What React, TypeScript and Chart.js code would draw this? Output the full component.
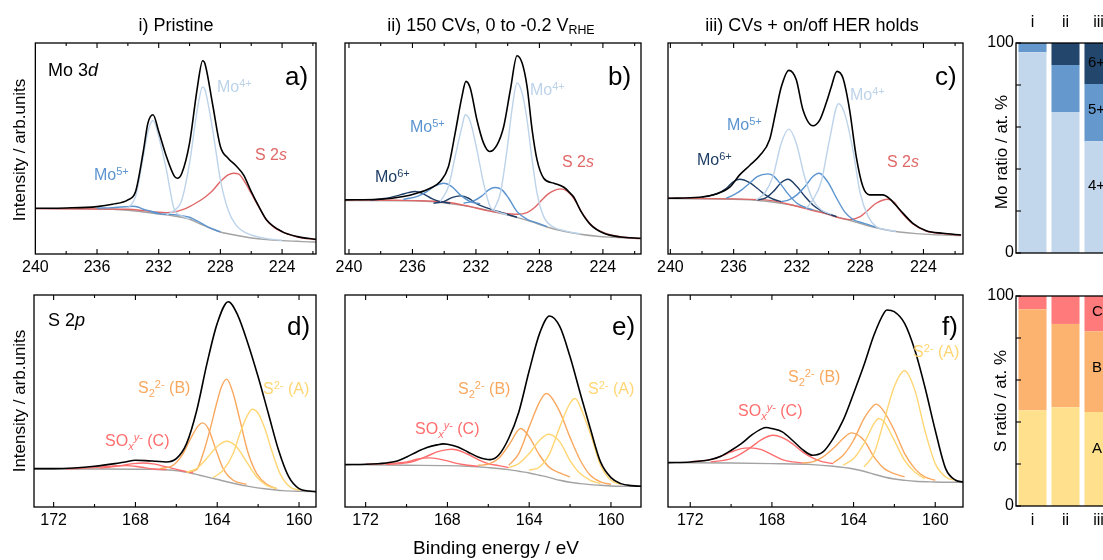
import React, { useEffect, useRef } from "react";
import { Chart, registerables } from "chart.js";
Chart.register(...registerables);

type Pt = [number, number];

// ---------- axis tick values ----------
const moTickLabels = [240, 236, 232, 228, 224];
const moMinorTicks = [238, 234, 230, 226, 222];
const sTickLabels = [172, 168, 164, 160];
const sMinorTicks = [170, 166, 162];
const barCats = ["i", "ii", "iii"];
const barTicks = [0, 20, 40, 60, 80, 100];

// ---------- bar values (at. %) ----------
const moFrac4 = [95.6, 67.1, 53.2];
const moFrac5 = [4.4, 22.4, 27.3];
const moFrac6 = [0, 10.5, 19.5];
const sFracA = [45.6, 47.0, 44.8];
const sFracB = [48.1, 39.7, 38.4];
const sFracC = [6.3, 13.3, 16.8];

// ---------- Mo 3d, pristine (binding energy eV, intensity arb.) ----------
const aTotal: Pt[] = [[240,137],[238,138],[236,142],[235,149],[234,162],[233.5,187],[233,307],[232.7,392],[232.37,417],[232,367],[231.5,292],[231,234],[230.8,227],[230.5,242],[230,332],[229.5,497],[229.15,579],[229,570],[228.5,447],[228,322],[227.5,287],[227,265],[226.5,237],[226,187],[225.5,142],[225,102],[224,67],[223,52],[222,45],[221.8,44]];
const aMo4a: Pt[] = [[234,137],[233.5,172],[233,292],[232.7,367],[232.37,400],[232,352],[231.5,252],[231,135],[230.5,114],[230,105]];
const aMo4b: Pt[] = [[231.5,117],[231,130],[230.5,162],[230,272],[229.5,432],[229.15,500],[229,492],[228.5,372],[228,222],[227.5,132],[227,87],[226.5,67],[226,57],[225,46],[224,41]];
const aMo5a: Pt[] = [[236,137],[235,139],[234,142],[233.7,143],[233.3,140],[233,134],[232.5,128],[232,122]];
const aMo5b: Pt[] = [[232.5,126],[232,121],[231.5,119],[231,118],[230.5,115],[230,110],[229.5,99],[229,86],[228.5,75],[228,66]];
const aS2s: Pt[] = [[240,136],[236,135],[234,134],[233,130],[232,125],[231.5,124],[231,126],[230.5,132],[230,142],[229.5,155],[229,170],[228.5,190],[228,217],[227.5,237],[227.14,242],[226.8,239],[226.5,222],[226,182],[225.5,140],[225,101],[224.5,79],[224,66],[223,51],[222,44],[221.8,43]];
const aBg: Pt[] = [[240,136],[238,136],[236,135],[235,134],[234,131],[233,126],[232,120],[231,114],[230.5,110],[230,104],[229.5,94],[229,84],[228.5,74],[228,66],[227,56],[226,48],[225,43],[224,40],[223,38],[222,36],[221.8,36]];

// ---------- Mo 3d, 150 CVs ----------
const bTotal: Pt[] = [[240.25,162],[238.04,164],[236.57,172],[235.73,182],[234.88,197],[234.25,217],[233.73,262],[233.31,362],[232.88,472],[232.63,517],[232.36,497],[231.94,402],[231.52,332],[231.14,307],[230.67,327],[230.25,382],[229.83,492],[229.41,594],[229.09,572],[228.78,502],[228.46,372],[228.15,282],[227.73,227],[227.09,212],[226.46,200],[226.04,181],[225.83,170],[225.41,130],[224.78,88],[223.94,62],[222.88,51],[221.62,47]];
const bMo4a: Pt[] = [[234.25,157],[233.73,202],[233.31,292],[232.88,382],[232.67,417],[232.36,397],[231.94,312],[231.52,212],[231.09,140],[230.67,127],[230.04,118]];
const bMo4b: Pt[] = [[230.88,132],[230.46,182],[230.04,312],[229.73,432],[229.41,512],[229.09,482],[228.78,402],[228.46,282],[228.15,182],[227.73,112],[227.09,80],[226.46,70],[225.41,60]];
const bMo5a: Pt[] = [[236.57,164],[235.73,172],[235.09,187],[234.57,204],[234.04,212],[233.52,202],[232.99,177],[232.36,157],[231.73,150]];
const bMo5b: Pt[] = [[232.78,152],[232.15,159],[231.62,174],[231.2,192],[230.78,199],[230.36,192],[229.94,167],[229.41,127],[228.78,104],[228.15,93],[227.52,82]];
const bMo6a: Pt[] = [[238.67,162],[237.62,167],[236.78,177],[236.25,184],[235.83,187],[235.31,180],[234.78,166],[234.25,157],[233.62,152]];
const bMo6b: Pt[] = [[234.67,152],[234.04,157],[233.52,169],[232.99,174],[232.46,167],[231.94,150],[231.31,138],[230.67,128],[230.04,119],[229.41,110]];
const bS2s: Pt[] = [[240.25,162],[235.94,160],[233.83,155],[232.36,142],[231.31,130],[230.25,122],[229.41,119],[228.78,124],[228.36,137],[227.94,157],[227.52,177],[227.09,190],[226.67,195],[226.25,188],[225.83,166],[225.2,115],[224.57,80],[223.73,60],[222.67,50],[221.62,46]];
const bBg: Pt[] = [[240.25,160],[235.94,159],[234.88,157],[233.83,152],[232.78,145],[231.73,136],[230.67,124],[229.62,112],[228.57,98],[227.52,81],[226.46,68],[225.41,59],[224.36,53],[223.31,50],[221.62,46]];

// ---------- Mo 3d, CVs + HER holds ----------
const cTotal: Pt[] = [[240.15,167],[238.15,170],[237.09,180],[236.25,200],[235.62,237],[234.99,265],[234.36,294],[233.73,342],[233.31,432],[232.99,500],[232.51,550],[232.04,522],[231.62,432],[230.99,384],[230.57,400],[230.15,452],[229.83,500],[229.47,547],[229.09,527],[228.67,432],[228.25,292],[227.83,202],[227.41,177],[226.57,177],[226.15,166],[225.52,134],[224.67,92],[223.83,70],[222.78,62],[221.62,57]];
const cMo4a: Pt[] = [[234.57,162],[234.04,182],[233.52,232],[232.99,332],[232.51,374],[232.04,332],[231.52,232],[230.99,162],[230.46,132],[229.83,119]];
const cMo4b: Pt[] = [[231.41,137],[230.99,162],[230.46,217],[229.94,342],[229.37,450],[228.99,422],[228.46,312],[228,182],[227.49,112],[226.99,82],[226.46,74],[225.73,68]];
const cMo5a: Pt[] = [[236.46,167],[236,177],[235.49,192],[234.99,212],[234.51,232],[233.83,240],[233.49,234],[232.99,207],[232.51,177],[232,152],[231.49,140],[230.99,132]];
const cMo5b: Pt[] = [[232.99,157],[232.51,162],[232,177],[231.49,202],[230.99,232],[230.61,242],[230.48,240],[230,212],[229.49,167],[228.99,127],[228.48,104],[228,95],[227.49,88],[226.99,80]];
const cMo6a: Pt[] = [[238,170],[236.99,182],[236.46,197],[236,217],[235.62,224],[234.99,214],[234.51,197],[234,177],[233.49,164],[232.99,157]];
const cMo6b: Pt[] = [[234.51,162],[234,167],[233.49,187],[232.99,214],[232.57,224],[232,202],[231.49,172],[230.99,147],[230.48,130],[230,120],[229.49,112]];
const cS2s: Pt[] = [[240.15,167],[234,162],[232,143],[230.99,130],[230,119],[229.31,108],[228.67,103],[228,112],[227.49,132],[226.99,152],[226.25,164],[225.83,154],[225.52,132],[224.67,90],[223.83,69],[222.78,61],[221.62,56]];
const cBg: Pt[] = [[240.15,166],[236.04,164],[234.99,162],[233.94,158],[232.88,151],[231.83,142],[230.78,130],[229.73,114],[228.67,101],[227.62,86],[226.57,74],[225.52,66],[224.46,61],[223.41,58],[221.62,55]];

// ---------- S 2p, pristine ----------
const dTotal: Pt[] = [[172.96,115],[172,115],[171,117],[170,122],[169,130],[168.5,135],[168,140],[167.5,139],[167,137],[166.5,135],[166,145],[165.5,190],[165,290],[164.5,430],[164,550],[163.46,615],[163,575],[162.5,490],[162,390],[161.5,280],[161,170],[160.5,90],[160,55],[159.5,48],[159.17,46]];
const dB1: Pt[] = [[165.5,105],[165.01,112],[164.69,160],[164.36,230],[164.03,310],[163.79,360],[163.54,383],[163.22,340],[162.89,260],[162.48,160],[162.07,100],[161.58,68],[161.09,55]];
const dB2: Pt[] = [[166.81,115],[166.16,125],[165.67,160],[165.26,210],[164.93,243],[164.72,252],[164.44,235],[164.11,180],[163.71,115],[163.22,80],[162.56,68]];
const dA1: Pt[] = [[164.2,88],[163.71,110],[163.22,160],[162.89,220],[162.56,270],[162.29,293],[161.99,280],[161.67,235],[161.34,170],[160.93,100],[160.44,60],[159.95,50]];
const dA2: Pt[] = [[165.5,104],[165.01,115],[164.52,145],[164.03,180],[163.54,197],[163.05,180],[162.56,135],[162.07,90],[161.58,65],[161.09,55]];
const dC1: Pt[] = [[169.75,116],[168.93,122],[168.11,130],[167.62,132],[167.13,129],[166.48,120],[165.83,110],[165.18,102]];
const dC2: Pt[] = [[171.38,114],[170.07,118],[169.09,123],[168.44,124],[167.79,120],[167.13,114],[166.48,112]];
const dBg: Pt[] = [[172.96,114],[169.75,114],[167.3,113],[166.16,110],[165.5,104],[164.85,95],[164.03,83],[163.22,71],[162.4,61],[161.58,54],[160.77,49],[159.95,47],[159.17,46]];

// ---------- S 2p, 150 CVs ----------
const eTotal: Pt[] = [[173,127],[172,128],[171,132],[170.5,137],[169.99,150],[169.5,165],[169,178],[168.51,186],[168.2,189],[168,188],[167.49,180],[167,165],[166.5,150],[165.91,142],[165.5,155],[165,206],[164.51,284],[164,408],[163.49,520],[163,572],[162.5,540],[162.01,452],[161.5,340],[161.01,235],[160.51,135],[160,88],[159.51,70],[159,64],[158.53,62]];
const eC1: Pt[] = [[171,128],[169.99,132],[169.5,140],[169,152],[168.51,165],[168,172],[167.79,173],[167.49,170],[167,158],[166.5,142],[166.01,130],[165.5,124],[165,118]];
const eC2: Pt[] = [[172,128],[171,130],[169.99,135],[169.5,143],[168.85,147],[168.51,145],[168,138],[167.49,130],[167,125],[166.5,122]];
const eB1: Pt[] = [[165,125],[164.51,160],[164,240],[163.49,315],[163.17,340],[163,335],[162.5,285],[162.01,210],[161.5,140],[161.01,95],[160.51,75],[160,68]];
const eB2: Pt[] = [[166.5,125],[166.01,128],[165.5,145],[165,185],[164.41,235],[164,210],[163.49,155],[163,118],[162.5,102],[162.01,90]];
const eA1: Pt[] = [[164,110],[163.49,120],[163,160],[162.5,240],[162.01,310],[161.75,325],[161.5,300],[161.01,220],[160.51,125],[160,80],[159.51,68]];
const eA2: Pt[] = [[165,118],[164.51,130],[164,160],[163.49,200],[163.05,218],[162.5,195],[162.01,140],[161.5,100],[161.01,80],[160.51,70]];
const eBg: Pt[] = [[173,127],[169.99,125],[168,124],[167,122],[166.01,118],[165,112],[164.51,107],[164,102],[163.49,95],[163,88],[162.5,80],[162.01,74],[161.5,70],[161.01,67],[160.51,65],[160,63],[159,62],[158.53,62]];

// ---------- S 2p, CVs + HER holds ----------
const fTotal: Pt[] = [[173.09,133],[172,135],[171,142],[170.5,152],[169.99,170],[169.5,190],[169,215],[168.51,234],[168.28,238],[168,235],[167.49,225],[167,200],[166.5,172],[166.01,155],[165.5,165],[165,205],[164.51,260],[164,340],[163.49,425],[163,515],[162.5,582],[162.37,590],[162.01,585],[161.5,550],[161,470],[160.51,360],[160,230],[159.49,115],[159,80],[158.64,75]];
const fC1: Pt[] = [[171,135],[169.99,145],[169.5,160],[169,180],[168.51,202],[167.95,215],[167.49,208],[167,190],[166.5,165],[166.01,147],[165.5,135],[165,130]];
const fC2: Pt[] = [[172,135],[171,142],[170.5,152],[169.99,165],[169.5,175],[169.09,177],[168.51,172],[168,157],[167.49,142],[167,135],[166.5,132]];
const fB1: Pt[] = [[165,132],[164.51,155],[164,200],[163.49,265],[163,305],[162.89,308],[162.5,285],[162.01,230],[161.5,160],[161,115],[160.51,90],[160,80]];
const fB2: Pt[] = [[166.5,132],[166.01,135],[165.5,150],[165,175],[164.51,205],[164.11,222],[163.49,200],[163,150],[162.5,115],[162.01,100],[161.5,90]];
const fA1: Pt[] = [[163.49,120],[163,160],[162.5,260],[162.01,360],[161.5,408],[161,350],[160.51,230],[160,130],[159.49,90],[159,80]];
const fA2: Pt[] = [[164.51,125],[164,145],[163.49,190],[163,250],[162.76,265],[162.5,255],[162.01,200],[161.5,140],[161,105],[160.51,85]];
const fBg: Pt[] = [[173.09,133],[169.99,132],[168,130],[166.01,127],[165,122],[164,114],[163.49,107],[163,98],[162.5,90],[162.01,84],[161.5,80],[161,77],[160,75],[159,74],[158.64,74]];

// ---------- styles ----------
const FONT = '"Liberation Sans", Arial, Helvetica, sans-serif';
const COL = {
  total: "#000000",
  mo4: "#bdd3ea",
  mo5: "#5b94cf",
  mo6: "#1f3e66",
  s2s: "#e06767",
  bg: "#a3a3a3",
  A: "#ffd673",
  B: "#f8a85f",
  C: "#ff6e6e",
  barMo4: "#c3d7ec",
  barMo5: "#6598cc",
  barMo6: "#23466c",
  barA: "#ffe08c",
  barB: "#fbb36f",
  barC: "#ff7a7a",
};

type PanelDef = {
  left: number; top: number; w: number; h: number;
  xMin: number; xMax: number; yMax: number;
  labels: number[]; minor: number[];
  curves: [Pt[], string][];
};

const panels: PanelDef[] = [
  { left: 34, top: 43, w: 282, h: 211, xMin: 221.8, xMax: 240, yMax: 632, labels: moTickLabels, minor: moMinorTicks,
    curves: [[aTotal, COL.total], [aMo4a, COL.mo4], [aMo4b, COL.mo4], [aMo5a, COL.mo5], [aMo5b, COL.mo5], [aS2s, COL.s2s], [aBg, COL.bg]] },
  { left: 345, top: 43, w: 296, h: 211, xMin: 221.6, xMax: 240.25, yMax: 632, labels: moTickLabels, minor: moMinorTicks,
    curves: [[bTotal, COL.total], [bMo4a, COL.mo4], [bMo4b, COL.mo4], [bMo5a, COL.mo5], [bMo5b, COL.mo5], [bMo6a, COL.mo6], [bMo6b, COL.mo6], [bS2s, COL.s2s], [bBg, COL.bg]] },
  { left: 668, top: 43, w: 295, h: 211, xMin: 221.5, xMax: 240.15, yMax: 632, labels: moTickLabels, minor: moMinorTicks,
    curves: [[cTotal, COL.total], [cMo4a, COL.mo4], [cMo4b, COL.mo4], [cMo5a, COL.mo5], [cMo5b, COL.mo5], [cMo6a, COL.mo6], [cMo6b, COL.mo6], [cS2s, COL.s2s], [cBg, COL.bg]] },
  { left: 34, top: 295, w: 282, h: 212, xMin: 159.17, xMax: 172.96, yMax: 635, labels: sTickLabels, minor: sMinorTicks,
    curves: [[dTotal, COL.total], [dA1, COL.A], [dA2, COL.A], [dB1, COL.B], [dB2, COL.B], [dC1, COL.C], [dC2, COL.C], [dBg, COL.bg]] },
  { left: 345, top: 295, w: 296, h: 212, xMin: 158.53, xMax: 173.01, yMax: 635, labels: sTickLabels, minor: sMinorTicks,
    curves: [[eTotal, COL.total], [eA1, COL.A], [eA2, COL.A], [eB1, COL.B], [eB2, COL.B], [eC1, COL.C], [eC2, COL.C], [eBg, COL.bg]] },
  { left: 668, top: 295, w: 295, h: 212, xMin: 158.64, xMax: 173.09, yMax: 635, labels: sTickLabels, minor: sMinorTicks,
    curves: [[fTotal, COL.total], [fA1, COL.A], [fA2, COL.A], [fB1, COL.B], [fB2, COL.B], [fC1, COL.C], [fC2, COL.C], [fBg, COL.bg]] },
];

function makeFrame(xMajor: number[] | null, xMinor: number[] | null, yMarks: number[] | null) {
  return {
    id: "frame",
    afterDatasetsDraw(chart: any) {
      const { ctx, chartArea: a } = chart;
      ctx.save();
      ctx.strokeStyle = "#000";
      ctx.lineWidth = 1.3;
      ctx.strokeRect(a.left, a.top, a.right - a.left, a.bottom - a.top);
      ctx.lineWidth = 1.1;
      const sx = chart.scales.x;
      const drawX = (vals: number[], len: number) => {
        for (const v of vals) {
          const px = sx.getPixelForValue(v);
          if (px <= a.left + 1 || px >= a.right - 1) continue;
          ctx.beginPath();
          ctx.moveTo(px, a.bottom);
          ctx.lineTo(px, a.bottom - len);
          ctx.moveTo(px, a.top);
          ctx.lineTo(px, a.top + len);
          ctx.stroke();
        }
      };
      if (xMajor) drawX(xMajor, 5);
      if (xMinor) drawX(xMinor, 3);
      if (yMarks) {
        const sy = chart.scales.y;
        for (const v of yMarks) {
          const py = sy.getPixelForValue(v);
          ctx.beginPath();
          ctx.moveTo(a.left, py);
          ctx.lineTo(a.left + 5, py);
          ctx.stroke();
        }
      }
      ctx.restore();
    },
  };
}

const PAD = 16;

function xpsConfig(p: PanelDef) {
  return {
    type: "line",
    data: {
      datasets: p.curves.map(([pts, color]) => ({
        data: pts.map(([x, y]) => ({ x, y })),
        borderColor: color,
        borderWidth: color === COL.total ? 1.6 : 1.4,
        pointRadius: 0,
        fill: false,
        cubicInterpolationMode: "monotone",
      })),
    },
    options: {
      animation: false,
      responsive: false,
      maintainAspectRatio: false,
      events: [],
      layout: { padding: { left: PAD, right: PAD, top: 10, bottom: 0 } },
      plugins: { legend: { display: false }, tooltip: { enabled: false }, title: { display: false } },
      scales: {
        x: {
          type: "linear",
          reverse: true,
          min: p.xMin,
          max: p.xMax,
          grid: { display: false, drawTicks: false },
          border: { display: false },
          afterBuildTicks: (s: any) => { s.ticks = p.labels.map((v) => ({ value: v })); },
          afterFit: (s: any) => { s.height = 30; },
          ticks: { autoSkip: false, maxRotation: 0, padding: 4, color: "#000", font: { family: FONT, size: 16 } },
        },
        y: { type: "linear", display: false, min: 0, max: p.yMax },
      },
    },
    plugins: [makeFrame(p.labels, p.minor, null)],
  };
}

function barConfig(kind: "mo" | "s") {
  const sets = kind === "mo"
    ? [[moFrac4, COL.barMo4], [moFrac5, COL.barMo5], [moFrac6, COL.barMo6]]
    : [[sFracA, COL.barA], [sFracB, COL.barB], [sFracC, COL.barC]];
  return {
    type: "bar",
    data: {
      labels: barCats,
      datasets: sets.map(([vals, color]) => ({
        data: vals as number[],
        backgroundColor: color as string,
        borderWidth: 0,
        barPercentage: 0.85,
        categoryPercentage: 1,
      })),
    },
    options: {
      animation: false,
      responsive: false,
      maintainAspectRatio: false,
      events: [],
      layout: { padding: kind === "mo" ? { left: 0, right: 12, top: 0, bottom: 12 } : { left: 0, right: 12, top: 12, bottom: 0 } },
      plugins: { legend: { display: false }, tooltip: { enabled: false }, title: { display: false } },
      scales: {
        x: {
          stacked: true,
          position: kind === "mo" ? "top" : "bottom",
          grid: { display: false, drawTicks: false },
          border: { display: false },
          afterFit: (s: any) => { s.height = kind === "mo" ? 43 : 30; },
          ticks: { padding: kind === "mo" ? 11 : 5, color: "#000", font: { family: FONT, size: 16 } },
        },
        y: {
          stacked: true,
          min: 0,
          max: 100,
          grid: { display: false, drawTicks: false },
          border: { display: false },
          afterBuildTicks: (s: any) => { s.ticks = barTicks.map((v) => ({ value: v })); },
          afterFit: (s: any) => { s.width = 50; },
          ticks: {
            padding: 2,
            color: "#000",
            font: { family: FONT, size: 16 },
            callback: (v: any) => (v === 0 || v === 100 ? String(v) : ""),
          },
        },
      },
    },
    plugins: [makeFrame(null, null, barTicks)],
  };
}

function ChartCanvas({ left, top, width, height, make }: any) {
  const ref = useRef<HTMLCanvasElement>(null);
  useEffect(() => {
    const chart = new Chart(ref.current as HTMLCanvasElement, make() as any);
    return () => chart.destroy();
  }, []);
  return (
    <canvas
      ref={ref}
      width={width}
      height={height}
      style={{ position: "absolute", left, top, width, height }}
    />
  );
}

function Txt({ x, base, size, color = "#000", center = false, children }: any) {
  return (
    <div
      style={{
        position: "absolute",
        left: x,
        top: base - 0.8465 * size,
        fontSize: size,
        lineHeight: `${size}px`,
        height: size,
        color,
        whiteSpace: "nowrap",
        transform: center ? "translateX(-50%)" : undefined,
      }}
    >
      {children}
    </div>
  );
}

function VTxt({ cx, cy, size, children }: any) {
  return (
    <div
      style={{
        position: "absolute",
        left: cx,
        top: cy,
        fontSize: size,
        lineHeight: `${size}px`,
        whiteSpace: "nowrap",
        transform: "translate(-50%,-50%) rotate(-90deg)",
      }}
    >
      {children}
    </div>
  );
}

const Sup = ({ children }: any) => (
  <span style={{ fontSize: "0.69em", position: "relative", top: "-0.5em", lineHeight: 0 }}>{children}</span>
);
const Sub = ({ children }: any) => (
  <span style={{ fontSize: "0.69em", position: "relative", top: "0.3em", lineHeight: 0 }}>{children}</span>
);

const Mo = ({ ox }: any) => (<>Mo<Sup>{ox}</Sup></>);
const S2s = () => (<>S 2<i>s</i></>);
const LabA = () => (<>S<Sup>2-</Sup> (A)</>);
const LabB = () => (<>S<Sub>2</Sub><Sup>2-</Sup> (B)</>);
const LabC = () => (<>SO<Sub><i>x</i></Sub><Sup><i>y</i>-</Sup> (C)</>);

export default function App() {
  return (
    <div
      style={{
        position: "fixed",
        left: 0,
        top: 0,
        width: 1103,
        height: 560,
        overflow: "hidden",
        background: "#fff",
        fontFamily: FONT,
        color: "#000",
      }}
    >
      {panels.map((p, i) => (
        <ChartCanvas
          key={i}
          left={p.left - PAD}
          top={p.top - 10}
          width={p.w + 2 * PAD}
          height={p.h + 40}
          make={() => xpsConfig(p)}
        />
      ))}
      <ChartCanvas left={966} top={0} width={161} height={265} make={() => barConfig("mo")} />
      <ChartCanvas left={966} top={284} width={161} height={252} make={() => barConfig("s")} />

      {/* column titles */}
      <Txt x={176} base={31} size={18} center>i) Pristine</Txt>
      <Txt x={491} base={31} size={18} center>ii) 150 CVs, 0 to -0.2 V<Sub>RHE</Sub></Txt>
      <Txt x={812} base={31} size={18} center>iii) CVs + on/off HER holds</Txt>

      {/* region labels */}
      <Txt x={48} base={76} size={18}>Mo 3<i>d</i></Txt>
      <Txt x={48} base={326} size={18}>S 2<i>p</i></Txt>

      {/* panel letters */}
      <Txt x={285} base={85} size={26}>a)</Txt>
      <Txt x={608} base={85} size={26}>b)</Txt>
      <Txt x={935} base={85} size={26}>c)</Txt>
      <Txt x={287} base={335} size={26}>d)</Txt>
      <Txt x={612} base={335} size={26}>e)</Txt>
      <Txt x={942} base={335} size={26}>f)</Txt>

      {/* Mo 3d peak labels */}
      <Txt x={217} base={93} size={16} color={COL.mo4}><Mo ox="4+" /></Txt>
      <Txt x={255} base={161} size={16} color={COL.s2s}><S2s /></Txt>
      <Txt x={94} base={181} size={16} color={COL.mo5}><Mo ox="5+" /></Txt>

      <Txt x={530} base={96} size={16} color={COL.mo4}><Mo ox="4+" /></Txt>
      <Txt x={410} base={133} size={16} color={COL.mo5}><Mo ox="5+" /></Txt>
      <Txt x={375} base={183} size={16} color={COL.mo6}><Mo ox="6+" /></Txt>
      <Txt x={562} base={168} size={16} color={COL.s2s}><S2s /></Txt>

      <Txt x={850} base={101} size={16} color={COL.mo4}><Mo ox="4+" /></Txt>
      <Txt x={727} base={131} size={16} color={COL.mo5}><Mo ox="5+" /></Txt>
      <Txt x={697} base={166} size={16} color={COL.mo6}><Mo ox="6+" /></Txt>
      <Txt x={887} base={168} size={16} color={COL.s2s}><S2s /></Txt>

      {/* S 2p peak labels */}
      <Txt x={138} base={394} size={16} color={COL.B}><LabB /></Txt>
      <Txt x={263} base={395} size={16} color={COL.A}><LabA /></Txt>
      <Txt x={105} base={447} size={16} color={COL.C}><LabC /></Txt>

      <Txt x={458} base={395} size={16} color={COL.B}><LabB /></Txt>
      <Txt x={588} base={395} size={16} color={COL.A}><LabA /></Txt>
      <Txt x={415} base={435} size={16} color={COL.C}><LabC /></Txt>

      <Txt x={913} base={358} size={16} color={COL.A}><LabA /></Txt>
      <Txt x={788} base={383} size={16} color={COL.B}><LabB /></Txt>
      <Txt x={738} base={417} size={16} color={COL.C}><LabC /></Txt>

      {/* axis titles */}
      <VTxt cx={19} cy={150} size={17}>Intensity / arb.units</VTxt>
      <VTxt cx={19} cy={401} size={17}>Intensity / arb.units</VTxt>
      <Txt x={496} base={554} size={19} center>Binding energy / eV</Txt>
      <VTxt cx={1001} cy={152} size={17}>Mo ratio / at. %</VTxt>
      <VTxt cx={1000} cy={401} size={17}>S ratio / at. %</VTxt>

      {/* labels inside bar iii */}
      <Txt x={1088} base={67} size={15}>6+</Txt>
      <Txt x={1088} base={114} size={15}>5+</Txt>
      <Txt x={1088} base={190} size={15}>4+</Txt>
      <Txt x={1092} base={316} size={15}>C</Txt>
      <Txt x={1092} base={372} size={15}>B</Txt>
      <Txt x={1092} base={453} size={15}>A</Txt>
    </div>
  );
}
